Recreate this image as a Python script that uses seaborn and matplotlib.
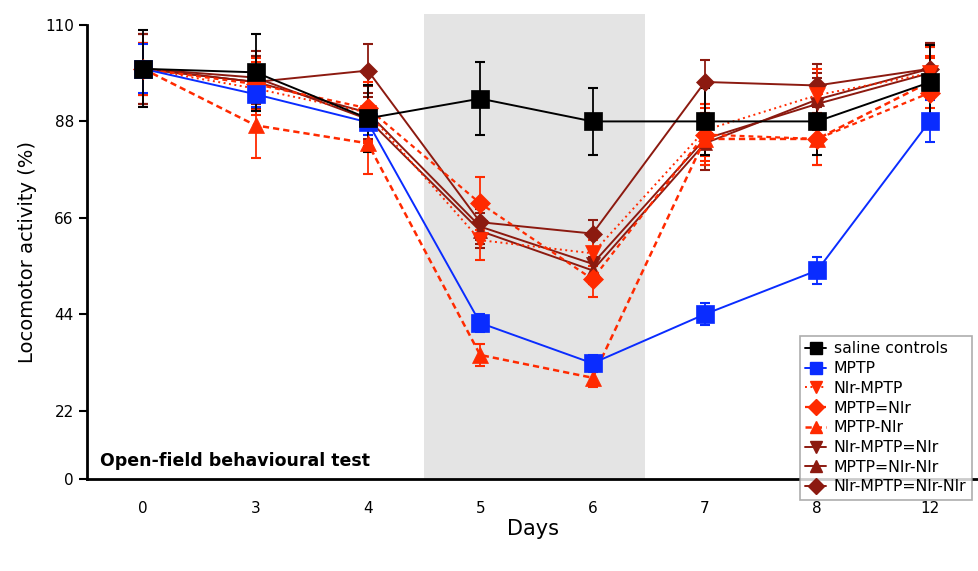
import matplotlib
matplotlib.use("Agg")
from matplotlib import pyplot as plt
from matplotlib.lines import Line2D
import numpy as np
import pandas as pd
import seaborn as sns

# Data
days = ["0", "3", "4", "5", "6", "7", "8", "12"]

saline = [100, 99.2, 88.7, 93.2, 88.0, 88.0, 88.0, 96.9]
saline_err = [8.8, 8.8, 7.6, 8.3, 7.7, 7.7, 7.7, 8.5]

mptp = [100, 94.2, 87.8, 42.0, 32.8, 44.0, 54.0, 88.0]
mptp_err = [5.6, 3.0, 3.0, 2.0, 2.0, 2.5, 3.0, 4.8]

nir_mptp = [100, 95.5, 90.0, 60.9, 57.9, 86.0, 94.0, 99.0]
nir_mptp_err = [6.0, 6.0, 7.0, 4.5, 3.0, 6.0, 6.0, 6.0]

mptp_eq_nir = [100, 96.5, 91.0, 69.3, 52.0, 85.0, 84.0, 94.5]
mptp_eq_nir_err = [6.0, 6.0, 7.5, 6.0, 4.0, 6.0, 6.0, 8.0]

mptp_nir = [100, 87.1, 83.0, 34.7, 29.5, 84.0, 84.0, 97.0]
mptp_nir_err = [6.0, 7.5, 7.0, 2.5, 2.0, 6.0, 6.0, 6.0]

nir_mptp_eq_nir = [100, 97.0, 90.0, 64.0, 55.5, 84.0, 92.0, 99.0]
nir_mptp_eq_nir_err = [8.0, 6.0, 6.0, 4.0, 3.0, 6.0, 6.0, 6.0]

mptp_eq_nir_nir = [100, 98.0, 88.5, 63.0, 54.0, 83.0, 93.0, 100.0]
mptp_eq_nir_nir_err = [8.0, 6.0, 6.0, 4.0, 3.0, 6.0, 6.0, 6.0]

nir_mptp_eq_nir_nir = [100, 97.0, 99.6, 65.0, 62.4, 97.0, 96.2, 100.0]
nir_mptp_eq_nir_nir_err = [8.0, 6.0, 6.0, 4.0, 3.0, 5.0, 5.0, 6.0]

BLACK = "#000000"
BLUE = "#0a2cff"
RED = "#ff2a00"
DARK = "#8c1a10"

# (label, values, errors, colour, marker, linestyle, linewidth, markersize)
series = [
    ("NIr-MPTP=NIr-NIr", nir_mptp_eq_nir_nir, nir_mptp_eq_nir_nir_err, DARK, "D", "-", 1.4, 9),
    ("MPTP=NIr-NIr", mptp_eq_nir_nir, mptp_eq_nir_nir_err, DARK, "^", "-", 1.4, 10),
    ("NIr-MPTP=NIr", nir_mptp_eq_nir, nir_mptp_eq_nir_err, DARK, "v", "-", 1.4, 10),
    ("MPTP-NIr", mptp_nir, mptp_nir_err, RED, "^", (0, (2.5, 1.6)), 1.8, 12),
    ("MPTP=NIr", mptp_eq_nir, mptp_eq_nir_err, RED, "D", (0, (2.2, 1.8)), 1.6, 10),
    ("NIr-MPTP", nir_mptp, nir_mptp_err, RED, "v", (0, (1, 1.8)), 1.4, 12),
    ("MPTP", mptp, mptp_err, BLUE, "s", "-", 1.4, 13),
    ("saline controls", saline, saline_err, BLACK, "s", "-", 1.4, 13),
]


def main():
    sns.set_style("white")
    plt.rcParams["font.family"] = ["DejaVu Sans"]

    fig = plt.figure(figsize=(9.79, 5.71), dpi=100)
    ax = fig.add_axes([87 / 979, 1 - 479 / 571, (979 - 87) / 979, (479 - 25) / 571])

    x = np.arange(len(days))
    # grey band over days 5 and 6
    ax.axvspan(2.5, 4.47, ymin=0, ymax=1.025, color="#e4e4e4", lw=0, clip_on=False, zorder=0)

    for label, vals, errs, col, mk, ls, lw, ms in series:
        df = pd.DataFrame({"x": x, "y": vals})
        ax.errorbar(x, vals, yerr=errs, fmt="none", ecolor=col, elinewidth=1.3,
                    capsize=3.5, capthick=1.5, zorder=3)
        sns.lineplot(data=df, x="x", y="y", ax=ax, color=col, linewidth=lw, linestyle=ls,
                     marker=mk, markersize=ms, markeredgewidth=0.5, markeredgecolor=col,
                     zorder=4)

    ax.set_xlim(-0.5, 7.44)
    ymin = 6.4
    ax.set_ylim(ymin, 110)
    ax.set_yticks([ymin, 22, 44, 66, 88, 110])
    ax.set_yticklabels(["0", "22", "44", "66", "88", "110"], fontsize=11)
    ax.set_xticks(np.arange(-0.5, 7.5, 1))
    ax.set_xticklabels([])
    ax.set_xticks(x, minor=True)
    ax.set_xticklabels(days, minor=True, fontsize=11)
    ax.tick_params(axis="x", which="major", direction="inout", length=12, width=1.8, color="black")
    ax.tick_params(axis="x", which="minor", length=0, pad=16, labelcolor="black")
    ax.tick_params(axis="y", direction="out", length=6, width=1.5, color="black", left=True,
                   labelcolor="black")

    for side in ["top", "right"]:
        ax.spines[side].set_visible(False)
    for side in ["left", "bottom"]:
        ax.spines[side].set_color("black")
        ax.spines[side].set_linewidth(2)

    ax.set_xlabel("Days", fontsize=15, labelpad=2, color="black")
    ax.set_ylabel("Locomotor activity (%)", fontsize=14, labelpad=6, color="black")
    ax.text(0.0145, 0.02, "Open-field behavioural test", transform=ax.transAxes,
            fontsize=12.5, fontweight="bold", va="bottom", ha="left", color="black")

    handles = []
    for label, vals, errs, col, mk, ls, lw, ms in reversed(series):
        handles.append(Line2D([], [], color=col, marker=mk, markersize=8, linewidth=lw,
                              linestyle=ls, label=label))
    leg = fig.legend(handles=handles, loc="upper left", bbox_to_anchor=(800 / 979, 1 - 336 / 571),
                     fontsize=11.3, frameon=True, fancybox=False, handlelength=1.3,
                     labelspacing=0.3, borderpad=0.35, borderaxespad=0, handletextpad=0.5,
                     labelcolor="black")
    leg.get_frame().set_edgecolor("#999999")
    leg.get_frame().set_linewidth(1.2)

    fig.savefig("out.png", dpi=100)


if __name__ == "__main__":
    main()
